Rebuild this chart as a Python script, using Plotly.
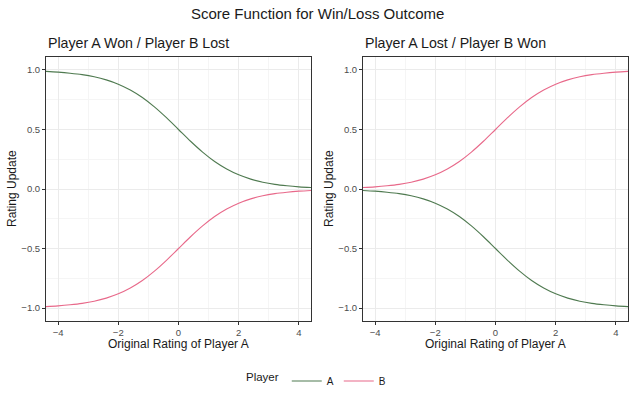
import plotly.graph_objects as go

# Ratings (x) sampled across the plotted range
rating = [-4.4, -4.0, -3.6, -3.2, -2.8, -2.4, -2.0, -1.6, -1.2, -0.8, -0.4, 0.0,
          0.4, 0.8, 1.2, 1.6, 2.0, 2.4, 2.8, 3.2, 3.6, 4.0, 4.4]

# Panel 1: Player A won / Player B lost
a_won = [0.988, 0.982, 0.973, 0.961, 0.943, 0.917, 0.881, 0.832, 0.769, 0.690, 0.599, 0.500,
         0.401, 0.310, 0.231, 0.168, 0.119, 0.083, 0.057, 0.039, 0.027, 0.018, 0.012]
b_lost = [-0.988, -0.982, -0.973, -0.961, -0.943, -0.917, -0.881, -0.832, -0.769, -0.690, -0.599, -0.500,
          -0.401, -0.310, -0.231, -0.168, -0.119, -0.083, -0.057, -0.039, -0.027, -0.018, -0.012]

# Panel 2: Player A lost / Player B won
a_lost = [-0.012, -0.018, -0.027, -0.039, -0.057, -0.083, -0.119, -0.168, -0.231, -0.310, -0.401, -0.500,
          -0.599, -0.690, -0.769, -0.832, -0.881, -0.917, -0.943, -0.961, -0.973, -0.982, -0.988]
b_won = [0.012, 0.018, 0.027, 0.039, 0.057, 0.083, 0.119, 0.168, 0.231, 0.310, 0.401, 0.500,
         0.599, 0.690, 0.769, 0.832, 0.881, 0.917, 0.943, 0.961, 0.973, 0.982, 0.988]

x_ticks = [-4, -2, 0, 2, 4]
x_tick_labels = ["\u22124", "\u22122", "0", "2", "4"]
y_ticks = [-1.0, -0.5, 0.0, 0.5, 1.0]
y_tick_labels = ["\u22121.0", "\u22120.5", "0.0", "0.5", "1.0"]

title = "Score Function for Win/Loss Outcome"
panel_titles = ["Player A Won / Player B Lost", "Player A Lost / Player B Won"]
x_label = "Original Rating of Player A"
y_label = "Rating Update"

COL_A = "#4F7A50"
COL_B = "#E8698A"
FONT = "Liberation Sans, Arial, sans-serif"

fig = go.Figure()

panels = [(a_won, b_lost, "x", "y"), (a_lost, b_won, "x2", "y2")]
for i, (ya, yb, xa, yaxis) in enumerate(panels):
    fig.add_trace(go.Scatter(x=rating, y=ya, mode="lines", name="A",
                             line=dict(color=COL_A, width=1.1, shape="spline", smoothing=1.0),
                             xaxis=xa, yaxis=yaxis, showlegend=(i == 0), legendgroup="A"))
    fig.add_trace(go.Scatter(x=rating, y=yb, mode="lines", name="B",
                             line=dict(color=COL_B, width=1.1, shape="spline", smoothing=1.0),
                             xaxis=xa, yaxis=yaxis, showlegend=(i == 0), legendgroup="B"))

xdoms = [[46 / 635, 311 / 635], [363 / 635, 628 / 635]]
ydom = [1 - 321 / 396, 1 - 57 / 396]

common_x = dict(range=[-4.4, 4.4], tickvals=x_ticks, ticktext=x_tick_labels,
                showgrid=True, gridcolor="#EBEBEB", gridwidth=1,
                minor=dict(tickvals=[-3, -1, 1, 3], showgrid=True, gridcolor="#F5F5F5", gridwidth=0.6),
                ticks="outside", ticklen=3, tickcolor="#333333", tickwidth=1,
                tickfont=dict(size=9.5, color="#4D4D4D", family=FONT),
                showline=True, linecolor="#333333", linewidth=1, mirror=True,
                zeroline=False)
common_y = dict(range=[-1.109, 1.109], tickvals=y_ticks, ticktext=y_tick_labels,
                showgrid=True, gridcolor="#EBEBEB", gridwidth=1,
                minor=dict(tickvals=[-0.75, -0.25, 0.25, 0.75], showgrid=True, gridcolor="#F5F5F5", gridwidth=0.6),
                ticks="outside", ticklen=3, tickcolor="#333333", tickwidth=1,
                tickfont=dict(size=9.5, color="#4D4D4D", family=FONT),
                showline=True, linecolor="#333333", linewidth=1, mirror=True,
                zeroline=False)

fig.update_layout(
    width=635, height=396,
    margin=dict(l=0, r=0, t=0, b=0),
    paper_bgcolor="white", plot_bgcolor="white",
    font=dict(family=FONT, color="#1A1A1A"),
    xaxis=dict(domain=xdoms[0], anchor="y", **common_x),
    yaxis=dict(domain=ydom, anchor="x", **common_y),
    xaxis2=dict(domain=xdoms[1], anchor="y2", **common_x),
    yaxis2=dict(domain=ydom, anchor="x2", **common_y),
    legend=dict(orientation="h", x=0.5, xanchor="center", y=1 - 381 / 396, yanchor="middle",
                title=dict(text="Player", font=dict(size=11.5, color="#1A1A1A")),
                font=dict(size=10, color="#1A1A1A"), itemwidth=30,
                bgcolor="rgba(0,0,0,0)"),
    showlegend=True,
)

ann = []
ann.append(dict(text=title, x=0.5, y=1 - 13 / 396, xref="paper", yref="paper",
                xanchor="center", yanchor="middle", showarrow=False,
                font=dict(size=15, color="#1A1A1A", family=FONT)))
for i, t in enumerate(panel_titles):
    ann.append(dict(text=t, x=xdoms[i][0], y=1 - 43 / 396, xref="paper", yref="paper",
                    xanchor="left", yanchor="middle", showarrow=False,
                    font=dict(size=14.2, color="#1A1A1A", family=FONT)))
    ann.append(dict(text=x_label, x=(xdoms[i][0] + xdoms[i][1]) / 2, y=1 - 344 / 396,
                    xref="paper", yref="paper", xanchor="center", yanchor="middle",
                    showarrow=False, font=dict(size=12, color="#1A1A1A", family=FONT)))
    ann.append(dict(text=y_label, x=(12 if i == 0 else 329) / 635, y=(ydom[0] + ydom[1]) / 2,
                    xref="paper", yref="paper", xanchor="center", yanchor="middle",
                    textangle=-90, showarrow=False,
                    font=dict(size=12, color="#1A1A1A", family=FONT)))
fig.update_layout(annotations=ann)

fig.write_html("out.html")
